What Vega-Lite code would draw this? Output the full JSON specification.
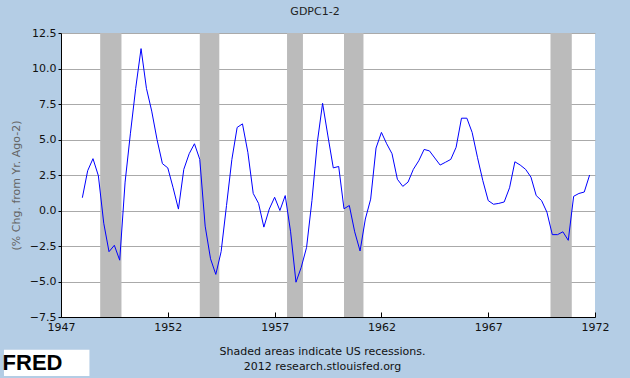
{
  "$schema": "https://vega.github.io/schema/vega-lite/v6.json",
  "width": 534,
  "height": 284,
  "autosize": {"type": "none"},
  "padding": {"left": 61, "top": 33, "right": 35, "bottom": 61},
  "background": "#b4cde5",
  "config": {
    "view": {"fill": "white", "stroke": null},
    "font": "DejaVu Sans"
  },
  "title": {
    "text": "GDPC1-2",
    "fontSize": 11,
    "fontWeight": "normal",
    "color": "#222222",
    "offset": 10,
    "dx": -13,
    "frame": "group"
  },
  "datasets": {
    "gdp": [
      {"date": "1948-01-01", "value": 0.9}, {"date": "1948-04-01", "value": 2.8}, {"date": "1948-07-01", "value": 3.65}, {"date": "1948-10-01", "value": 2.45},
      {"date": "1949-01-01", "value": -0.9}, {"date": "1949-04-01", "value": -2.9}, {"date": "1949-07-01", "value": -2.45}, {"date": "1949-10-01", "value": -3.5},
      {"date": "1950-01-01", "value": 2.0}, {"date": "1950-04-01", "value": 5.4}, {"date": "1950-07-01", "value": 8.6}, {"date": "1950-10-01", "value": 11.4},
      {"date": "1951-01-01", "value": 8.6}, {"date": "1951-04-01", "value": 7.0}, {"date": "1951-07-01", "value": 5.0}, {"date": "1951-10-01", "value": 3.3},
      {"date": "1952-01-01", "value": 3.0}, {"date": "1952-04-01", "value": 1.6}, {"date": "1952-07-01", "value": 0.1}, {"date": "1952-10-01", "value": 2.9},
      {"date": "1953-01-01", "value": 4.0}, {"date": "1953-04-01", "value": 4.7}, {"date": "1953-07-01", "value": 3.6}, {"date": "1953-10-01", "value": -1.1},
      {"date": "1954-01-01", "value": -3.4}, {"date": "1954-04-01", "value": -4.5}, {"date": "1954-07-01", "value": -2.9}, {"date": "1954-10-01", "value": 0.35},
      {"date": "1955-01-01", "value": 3.6}, {"date": "1955-04-01", "value": 5.85}, {"date": "1955-07-01", "value": 6.1}, {"date": "1955-10-01", "value": 4.1},
      {"date": "1956-01-01", "value": 1.2}, {"date": "1956-04-01", "value": 0.5}, {"date": "1956-07-01", "value": -1.17}, {"date": "1956-10-01", "value": 0.1},
      {"date": "1957-01-01", "value": 0.93}, {"date": "1957-04-01", "value": 0.0}, {"date": "1957-07-01", "value": 1.05}, {"date": "1957-10-01", "value": -1.5},
      {"date": "1958-01-01", "value": -5.05}, {"date": "1958-04-01", "value": -4.0}, {"date": "1958-07-01", "value": -2.6}, {"date": "1958-10-01", "value": 0.7},
      {"date": "1959-01-01", "value": 4.8}, {"date": "1959-04-01", "value": 7.55}, {"date": "1959-07-01", "value": 5.25}, {"date": "1959-10-01", "value": 3.0},
      {"date": "1960-01-01", "value": 3.1}, {"date": "1960-04-01", "value": 0.12}, {"date": "1960-07-01", "value": 0.35}, {"date": "1960-10-01", "value": -1.5},
      {"date": "1961-01-01", "value": -2.85}, {"date": "1961-04-01", "value": -0.6}, {"date": "1961-07-01", "value": 0.8}, {"date": "1961-10-01", "value": 4.4},
      {"date": "1962-01-01", "value": 5.5}, {"date": "1962-04-01", "value": 4.7}, {"date": "1962-07-01", "value": 4.0}, {"date": "1962-10-01", "value": 2.2},
      {"date": "1963-01-01", "value": 1.7}, {"date": "1963-04-01", "value": 2.0}, {"date": "1963-07-01", "value": 2.9}, {"date": "1963-10-01", "value": 3.5},
      {"date": "1964-01-01", "value": 4.3}, {"date": "1964-04-01", "value": 4.2}, {"date": "1964-07-01", "value": 3.7}, {"date": "1964-10-01", "value": 3.2},
      {"date": "1965-01-01", "value": 3.4}, {"date": "1965-04-01", "value": 3.6}, {"date": "1965-07-01", "value": 4.45}, {"date": "1965-10-01", "value": 6.5},
      {"date": "1966-01-01", "value": 6.5}, {"date": "1966-04-01", "value": 5.5}, {"date": "1966-07-01", "value": 3.75}, {"date": "1966-10-01", "value": 2.1},
      {"date": "1967-01-01", "value": 0.7}, {"date": "1967-04-01", "value": 0.44}, {"date": "1967-07-01", "value": 0.5}, {"date": "1967-10-01", "value": 0.6},
      {"date": "1968-01-01", "value": 1.6}, {"date": "1968-04-01", "value": 3.43}, {"date": "1968-07-01", "value": 3.2}, {"date": "1968-10-01", "value": 2.9},
      {"date": "1969-01-01", "value": 2.35}, {"date": "1969-04-01", "value": 1.05}, {"date": "1969-07-01", "value": 0.7}, {"date": "1969-10-01", "value": -0.12},
      {"date": "1970-01-01", "value": -1.7}, {"date": "1970-04-01", "value": -1.7}, {"date": "1970-07-01", "value": -1.5}, {"date": "1970-10-01", "value": -2.1},
      {"date": "1971-01-01", "value": 1.0}, {"date": "1971-04-01", "value": 1.2}, {"date": "1971-07-01", "value": 1.3}, {"date": "1971-10-01", "value": 2.5}
    ],
    "recessions": [
      {"start": "1948-11-01", "end": "1949-10-31"},
      {"start": "1953-07-01", "end": "1954-05-31"},
      {"start": "1957-08-01", "end": "1958-04-30"},
      {"start": "1960-04-01", "end": "1961-02-28"},
      {"start": "1969-12-01", "end": "1970-11-30"}
    ],
    "logo": [{"label": "FRED"}]
  },
  "layer": [
    {
      "data": {"name": "recessions"},
      "mark": {"type": "rect", "color": "#bbbbbb"},
      "encoding": {
        "x": {
          "field": "start",
          "type": "temporal",
          "scale": {"domain": [{"year": 1947, "month": 1, "date": 1}, {"year": 1972, "month": 1, "date": 1}]},
          "axis": {
            "values": [{"year": 1947}, {"year": 1952}, {"year": 1957}, {"year": 1962}, {"year": 1967}, {"year": 1972}],
            "tickCount": 20,
            "format": "%Y",
            "grid": false,
            "domainColor": "#000000",
            "tickColor": "#000000",
            "tickSize": -5,
            "labelPadding": 9,
            "labelFontSize": 11,
            "labelColor": "#111111",
            "labelFlush": false,
            "labelOverlap": false,
            "title": ["Shaded areas indicate US recessions.", "2012 research.stlouisfed.org"],
            "titleFontSize": 11,
            "titleFontWeight": "normal",
            "titleColor": "#111111",
            "titleX": 261,
            "titleY": 28,
            "titleAlign": "center",
            "titleBaseline": "top",
            "titleLineHeight": 15
          }
        },
        "x2": {"field": "end"}
      }
    },
    {
      "data": {"name": "gdp"},
      "mark": {"type": "line", "color": "#0000ff", "strokeWidth": 1},
      "encoding": {
        "x": {"field": "date", "type": "temporal"},
        "y": {
          "field": "value",
          "type": "quantitative",
          "scale": {"domain": [-7.5, 12.5], "nice": false, "zero": false},
          "axis": {
            "values": [-7.5, -5, -2.5, 0, 2.5, 5, 7.5, 10, 12.5],
            "tickCount": 20,
            "format": ".1f",
            "gridColor": "#aaaaaa",
            "gridOpacity": 1,
            "domainColor": "#000000",
            "tickColor": "#000000",
            "tickSize": 3,
            "labelPadding": 2,
            "labelFontSize": 11,
            "labelColor": "#111111",
            "labelFlush": false,
            "labelOverlap": false,
            "title": "(% Chg. from Yr. Ago-2)",
            "titleFontSize": 11,
            "titleFontWeight": "normal",
            "titleColor": "#666666",
            "titleX": -45,
            "titleY": 152,
            "titleAngle": 270,
            "titleAlign": "center",
            "titleBaseline": "middle"
          }
        }
      }
    },
    {
      "data": {"name": "logo"},
      "mark": {"type": "rect", "color": "#ffffff"},
      "encoding": {
        "x": {"datum": {"year": 1944, "month": 5, "date": 1}, "type": "temporal"},
        "x2": {"datum": {"year": 1948, "month": 5, "date": 1}},
        "y": {"datum": -9.8, "type": "quantitative"},
        "y2": {"datum": -11.65}
      }
    },
    {
      "data": {"name": "logo"},
      "mark": {"type": "text", "font": "Liberation Sans", "fontWeight": "bold", "fontSize": 22, "color": "#000000", "align": "center", "baseline": "middle"},
      "encoding": {
        "x": {"datum": {"year": 1945, "month": 9, "date": 1}, "type": "temporal"},
        "y": {"datum": -10.75, "type": "quantitative"},
        "text": {"field": "label"}
      }
    }
  ]
}
